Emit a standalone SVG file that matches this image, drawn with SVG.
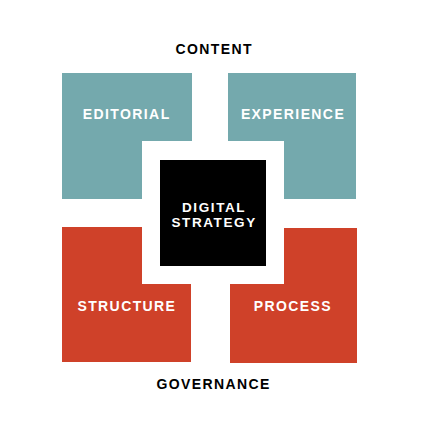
<svg xmlns="http://www.w3.org/2000/svg" width="427" height="427" viewBox="0 0 427 427">
<style>
.teal{fill:#74a9ad}
.red{fill:#cf4129}
.lbl{font-family:"Liberation Sans",Arial,sans-serif;font-weight:bold;font-size:14px;letter-spacing:1.4px;text-anchor:middle}
.ctr{font-size:13.5px;letter-spacing:1.6px}
.w{fill:#ffffff}
.k{fill:#000000}
</style>
<rect width="427" height="427" fill="#ffffff"/>
<g id="connectors"></g>
<g id="content-title"><text class="lbl k" x="214.2" y="54.3">CONTENT</text></g>
<g id="governance-title"><text class="lbl k" x="213.7" y="389.3">GOVERNANCE</text></g>
<g id="editorial">
<polygon class="teal" points="62,73 192,73 192,141 142,141 142,199 62,199"/>
<text class="lbl w" x="126.7" y="118.5">EDITORIAL</text>
</g>
<g id="experience">
<polygon class="teal" points="228,73 356,73 356,199 284,199 284,141 228,141"/>
<text class="lbl w" x="293" y="119">EXPERIENCE</text>
</g>
<g id="structure">
<polygon class="red" points="62,227 142,227 142,284 191,284 191,362 62,362"/>
<text class="lbl w" x="126.9" y="310.7">STRUCTURE</text>
</g>
<g id="process">
<polygon class="red" points="284,228 357,228 357,363 230,363 230,284 284,284"/>
<text class="lbl w" x="292.9" y="310.7">PROCESS</text>
</g>
<g id="digital-strategy">
<rect x="160" y="160" width="106" height="106" class="k"/>
<text class="lbl ctr w" x="214.1" y="211.6">DIGITAL</text>
<text class="lbl ctr w" x="214.1" y="227.4">STRATEGY</text>
</g>
</svg>
